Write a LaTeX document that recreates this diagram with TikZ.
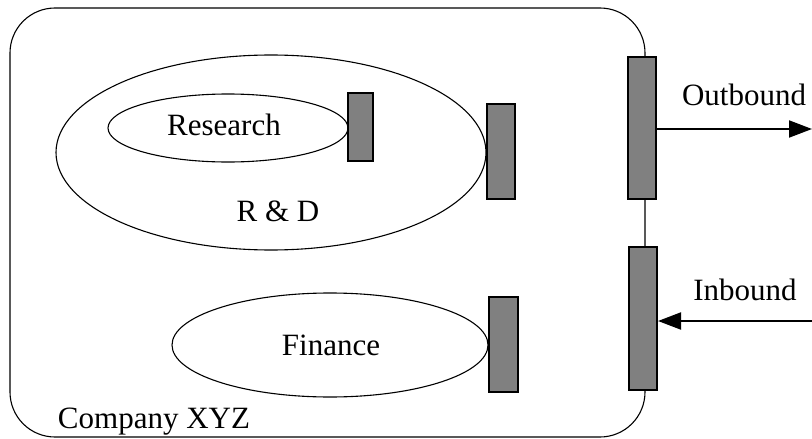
\documentclass[tikz,border=0pt]{standalone}
\usepackage{fontspec}
\setmainfont{Liberation Serif}
\usetikzlibrary{shapes.geometric,arrows.meta}
\definecolor{gatefill}{HTML}{808080}
\begin{document}
\begin{tikzpicture}[x=1pt,y=1pt,
  lbl/.style={font=\fontsize{31}{36}\selectfont, anchor=base, inner sep=0},
  unit/.style={draw, line width=1.1pt, ellipse, inner sep=0},
  gate/.style={draw, line width=2pt, fill=gatefill, rectangle, inner sep=0},
  flow/.style={line width=2pt, -{Triangle[length=23pt,width=17pt]}}]
\useasboundingbox (0,0) rectangle (812,-439);
% company boundary
\node[draw, line width=1.1pt, rectangle, rounded corners=45pt, inner sep=0,
      minimum width=635pt, minimum height=429pt] (company) at (327.5,-222.5) {};
% units
\node[unit, minimum width=430pt, minimum height=195pt] (rd) at (271,-152.5) {};
\node[unit, minimum width=240pt, minimum height=68pt] (research) at (228,-128) {};
\node[unit, minimum width=316pt, minimum height=104pt] (finance) at (330,-345) {};
% gateways
\node[gate, minimum width=25pt, minimum height=68pt] (gres) at (360.5,-127) {};
\node[gate, minimum width=28pt, minimum height=95pt] (grd) at (501,-151.5) {};
\node[gate, minimum width=29pt, minimum height=95pt] (gfin) at (503.5,-344.5) {};
\node[gate, minimum width=28pt, minimum height=142pt] (gout) at (642,-128) {};
\node[gate, minimum width=28pt, minimum height=143pt] (gin) at (643,-318.5) {};
% labels
\node[lbl] (tres) at (224,-135) {Research};
\node[lbl] (trd) at (278,-221) {R \& D};
\node[lbl] (tfin) at (331,-355) {Finance};
\node[lbl] (tcomp) at (154,-428) {Company XYZ};
\node[lbl] (tout) at (744,-105) {Outbound};
\node[lbl] (tin) at (745,-300) {Inbound};
% external connectors
\coordinate (outend) at (812,-129);
\coordinate (instart) at (812,-321);
\draw[flow] (gout.east |- outend) -- (outend);
\draw[flow] (instart) -- (gin.east |- instart);
\end{tikzpicture}
\end{document}
